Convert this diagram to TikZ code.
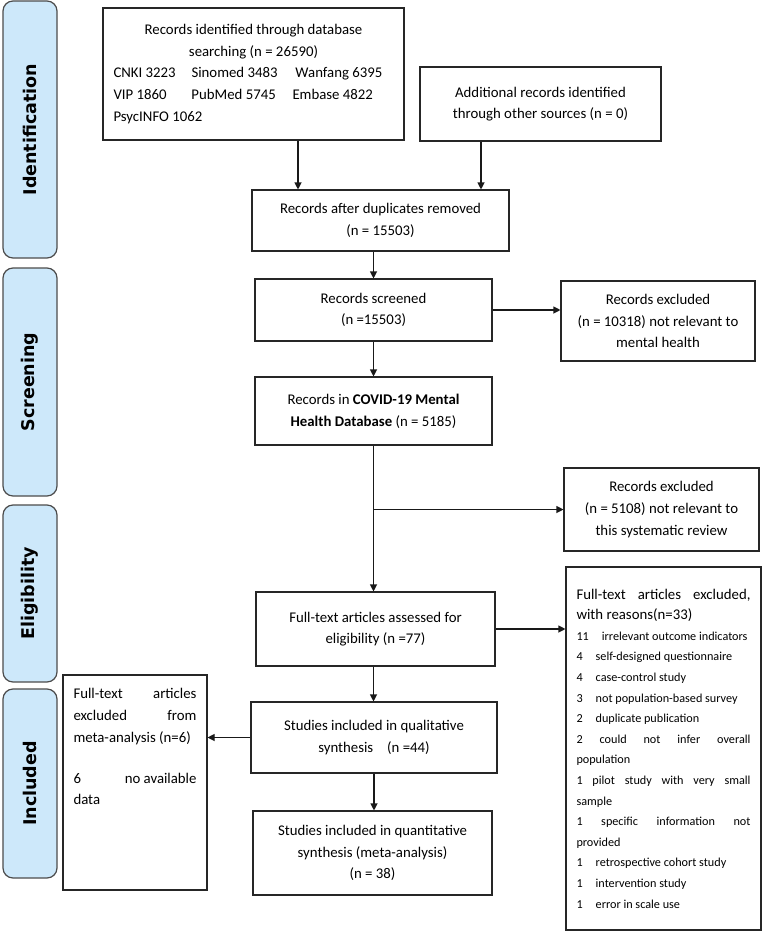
\documentclass[tikz,border=0pt]{standalone}
\usepackage{fontspec}
\setmainfont{Carlito}
\newfontfamily\sidefont{DejaVu Sans}
\usetikzlibrary{arrows.meta,calc}
\definecolor{sideblue}{RGB}{205,232,250}
\newcommand\mainf{\fontsize{14.8}{21.7}\selectfont}
\newcommand\itemf{\fontsize{12.2}{20.6}\selectfont}
\newcommand\ns{\spaceskip=0pt\xspaceskip=0pt\relax}
\begin{document}
\begin{tikzpicture}[x=1pt,y=-1pt,
  box/.style={draw=black!85,line width=1.1pt,rectangle,inner sep=0pt,align=center,font=\mainf},
  side/.style={draw=black!70,line width=1.2pt,fill=sideblue,rounded corners=10pt,minimum width=54pt,inner sep=0pt},
  sidetext/.style={rotate=90,inner sep=0pt,font=\sidefont\bfseries\fontsize{17.5}{20}\selectfont},
  arr/.style={draw=black!90,line width=1.1pt,-{Triangle[length=7pt,width=7pt]}},
  ln/.style={draw=black!90,line width=1.1pt}]
\useasboundingbox (0,0) rectangle (762,931);

% side labels
\node[side,minimum height=257pt] (sid) at (30,129.5) {};
\node[sidetext] (sidt) at (sid.center) {Identification};
\node[side,minimum height=228pt] (ssc) at (30,382) {};
\node[sidetext] (ssct) at (ssc.center) {Screening};
\node[side,minimum height=177pt] (sel) at (30,593.5) {};
\node[sidetext] (selt) at (sel.center) {Eligibility};
\node[side,minimum height=189pt] (sin) at (30,783.5) {};
\node[sidetext] (sint) at (sin.center) {Included};

% boxes
\node[box,minimum width=301pt,minimum height=132pt] (A) at (253.5,74)
 {\parbox{280pt}{\centering Records identified through database\\ searching (n = 26590)\par\raggedright
  \makebox[78pt][l]{CNKI 3223}\makebox[104pt][l]{Sinomed 3483}Wanfang 6395\\
  \makebox[78pt][l]{VIP 1860}\makebox[101pt][l]{PubMed 5745}Embase 4822\\
  PsycINFO 1062}};
\node[box,minimum width=241pt,minimum height=74pt] (B) at (540.5,104)
 {\ns Additional records identified\\through other sources (n = 0)};
\node[box,minimum width=257pt,minimum height=61pt] (C) at (380.5,220.5)
 {\ns Records after duplicates removed\\(n = 15503)};
\node[box,minimum width=237pt,minimum height=62pt] (S) at (373.5,310)
 {\ns Records screened\\(n =15503)};
\node[box,minimum width=194pt,minimum height=80pt] (E1) at (658,321)
 {\ns Records excluded\\(n = 10318) not relevant to\\mental health};
\node[box,minimum width=237pt,minimum height=68pt] (D) at (373.5,411)
 {\ns Records in \textbf{COVID-19 Mental}\\\textbf{Health Database} (n = 5185)};
\node[box,minimum width=195pt,minimum height=83pt] (E2) at (661.5,509.5)
 {\ns Records excluded\\(n = 5108) not relevant to\\this systematic review};
\node[box,minimum width=239pt,minimum height=74pt] (F) at (375.5,629)
 {\ns Full-text articles assessed for\\eligibility (n =77)};
\node[box,minimum width=195pt,minimum height=363pt,text width=174pt,align=left,
  font=\fontsize{14.8}{20.6}\selectfont] (L) at (663.5,748.5)
 {\ns\makebox[174pt][s]{Full-text articles excluded,}\\
  with reasons(n=33)\\
  \itemf 11\hspace{13pt}irrelevant outcome indicators\\
  4\hspace{13pt}self-designed questionnaire\\
  4\hspace{13pt}case-control study\\
  3\hspace{13pt}not population-based survey\\
  2\hspace{13pt}duplicate publication\\
  \makebox[174pt][s]{2 could not infer overall}\\
  population\\
  \makebox[174pt][s]{1 pilot study with very small}\\
  sample\\
  \makebox[174pt][s]{1 specific information not}\\
  provided\\
  1\hspace{13pt}retrospective cohort study\\
  1\hspace{13pt}intervention study\\
  1\hspace{13pt}error in scale use};
\node[box,minimum width=246pt,minimum height=71pt] (Q) at (374,737.5)
 {\ns Studies included in qualitative\\synthesis\hspace{14pt}(n =44)};
\node[box,minimum width=144pt,minimum height=215pt] (X) at (135,782.5) {};
\node[anchor=north,inner sep=0pt,text width=123pt,align=left,font=\mainf] (Xt)
  at ($(X.north)+(0,14)$)
 {\ns\makebox[123pt][s]{Full-text articles}\\
  \makebox[123pt][s]{excluded from}\\
  meta-analysis (n=6)\\[19pt]
  \makebox[123pt][s]{6\hfill no available}\\
  data};
\node[box,minimum width=239pt,minimum height=84pt] (N) at (372.5,853)
 {\ns Studies included in quantitative\\synthesis (meta-analysis)\\(n = 38)};

% connectors
\coordinate (xa) at (298,0);
\coordinate (xb) at (481,0);
\draw[arr] (A.south -| xa) -- (C.north -| xa);
\draw[arr] (B.south -| xb) -- (C.north -| xb);
\draw[arr] (C.south -| S.north) -- (S.north);
\draw[arr] (S.east) -- (S.east -| E1.west);
\draw[arr] (S.south) -- (D.north);
\draw[arr] (D.south) -- (D.south |- F.north);
\draw[arr] (D.south |- E2.west) -- (E2.west);
\draw[arr] (F.east) -- (F.east -| L.west);
\draw[arr] (F.south -| S.south) -- (Q.north -| S.south);
\draw[arr] (Q.west) -- (Q.west -| X.east);
\draw[arr] (Q.south) -- (Q.south |- N.north);
\end{tikzpicture}
\end{document}
